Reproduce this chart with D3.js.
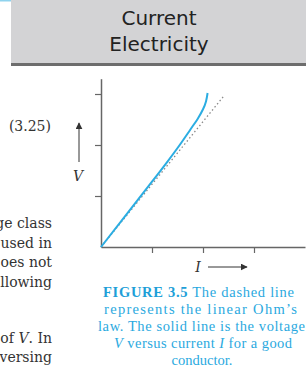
<!DOCTYPE html>
<html>
<head>
<meta charset="utf-8">
<script src="https://cdn.jsdelivr.net/npm/d3@7"></script>
<style>
  body { margin: 0; background: #fff; }
  svg { display: block; }
</style>
</head>
<body>
<div id="my_dataviz"></div>
<script>
// data (units: one tick = 1)
var currentI = [0, 0.5, 1.0, 1.3, 1.55, 1.75, 1.9, 2.0, 2.06, 2.09];
var voltageV = [0, 0.64, 1.28, 1.67, 2.01, 2.3, 2.52, 2.7, 2.86, 3.02];
var ohmI = [0, 2.4];
var ohmV = [0, 2.95];
var tickVals = [1, 2, 3];

var headerLines = ["Current", "Electricity"];
var bodyLines = ["ge class", "used in", "oes not", "llowing"];
var captionLines = [
  "represents the linear Ohm\u2019s",
  "law. The solid line is the voltage"
];

var width = 306, height = 367;

var svg = d3.select("#my_dataviz")
    .append("svg")
    .attr("width", width)
    .attr("height", height);

// header box
svg.append("rect").attr("x", 0).attr("y", 0).attr("width", 11).attr("height", 1.5).attr("fill", "#8fd3ee");
svg.append("rect").attr("x", 11).attr("y", 0).attr("width", width - 11).attr("height", 64).attr("fill", "#d3d3d5");
svg.append("rect").attr("x", 11).attr("y", 63).attr("width", width - 11).attr("height", 3).attr("fill", "#6d6d6d");
svg.selectAll(".hdr")
    .data(headerLines)
    .enter().append("text")
    .attr("class", "hdr")
    .attr("x", 159)
    .attr("y", function(d, i) { return 25 + i * 26; })
    .attr("text-anchor", "middle")
    .style("font-family", "'DejaVu Sans', sans-serif")
    .style("font-size", "20px")
    .attr("fill", "#222")
    .text(function(d) { return d; });

// body text cut at the left edge
var serif = "'DejaVu Serif', serif";
svg.append("text").attr("x", 51).attr("y", 131).attr("text-anchor", "end")
    .style("font-family", serif).style("font-size", "14px").attr("fill", "#333").text("(3.25)");
svg.selectAll(".body")
    .data(bodyLines)
    .enter().append("text")
    .attr("class", "body")
    .attr("x", 52)
    .attr("y", function(d, i) { return 228 + i * 19.5; })
    .attr("text-anchor", "end")
    .style("font-family", serif).style("font-size", "14px").attr("fill", "#333")
    .text(function(d) { return d; });
var t1 = svg.append("text").attr("x", 52).attr("y", 342.5).attr("text-anchor", "end")
    .style("font-family", serif).style("font-size", "14px").attr("fill", "#333");
t1.append("tspan").text("of ");
t1.append("tspan").style("font-style", "italic").text("V");
t1.append("tspan").text(". In");
svg.append("text").attr("x", 52).attr("y", 361.5).attr("text-anchor", "end")
    .style("font-family", serif).style("font-size", "14px").attr("fill", "#333").text("versing");

// scales
var x = d3.scaleLinear().domain([0, 4]).range([101, 305]);
var y = d3.scaleLinear().domain([0, 3.3]).range([247, 247 - 3.3 * 51]);

// axes
var xAxis = svg.append("g")
    .attr("transform", "translate(0," + y(0) + ")")
    .call(d3.axisBottom(x).tickValues(tickVals).tickSize(6).tickSizeOuter(0).tickFormat(""));
var yAxis = svg.append("g")
    .attr("transform", "translate(" + x(0) + ",0)")
    .call(d3.axisLeft(y).tickValues(tickVals).tickSize(6).tickSizeOuter(0).tickFormat(""));
svg.selectAll(".domain").attr("stroke", "#666").attr("stroke-width", 1.5);
svg.selectAll(".tick line").attr("stroke", "#666").attr("stroke-width", 1.2);

// Ohm's law (dashed)
svg.append("path")
    .datum(d3.range(ohmI.length))
    .attr("fill", "none")
    .attr("stroke", "#8a8a8a")
    .attr("stroke-width", 1.3)
    .attr("stroke-dasharray", "1.5,2.5")
    .attr("d", d3.line().x(function(i) { return x(ohmI[i]); }).y(function(i) { return y(ohmV[i]); }));

// measured V-I (solid)
svg.append("path")
    .datum(d3.range(currentI.length))
    .attr("fill", "none")
    .attr("stroke", "#2badE2")
    .attr("stroke-width", 2)
    .attr("d", d3.line().curve(d3.curveNatural)
        .x(function(i) { return x(currentI[i]); })
        .y(function(i) { return y(voltageV[i]); }));

// axis labels with arrows
svg.append("defs").append("marker")
    .attr("id", "arr").attr("viewBox", "0 0 10 10")
    .attr("refX", 9).attr("refY", 5)
    .attr("markerWidth", 7).attr("markerHeight", 7)
    .attr("markerUnits", "userSpaceOnUse")
    .attr("orient", "auto")
    .append("path").attr("d", "M0,0L10,5L0,10z").attr("fill", "#333");

svg.append("line").attr("x1", 79).attr("y1", 162).attr("x2", 79).attr("y2", 123)
    .attr("stroke", "#333").attr("stroke-width", 1).attr("marker-end", "url(#arr)");
svg.append("text").attr("x", 78).attr("y", 181).attr("text-anchor", "middle")
    .style("font-family", serif).style("font-style", "italic").style("font-size", "14px")
    .attr("fill", "#333").text("V");

svg.append("line").attr("x1", 208).attr("y1", 267).attr("x2", 247).attr("y2", 267)
    .attr("stroke", "#333").attr("stroke-width", 1).attr("marker-end", "url(#arr)");
svg.append("text").attr("x", 198).attr("y", 272).attr("text-anchor", "middle")
    .style("font-family", serif).style("font-style", "italic").style("font-size", "14px")
    .attr("fill", "#333").text("I");

// caption
var cap = "#2aa9e0";
var capFont = "'Liberation Serif', serif";
var c1 = svg.append("text").attr("x", 103).attr("y", 297)
    .attr("textLength", 191).attr("lengthAdjust", "spacing")
    .style("font-family", capFont).style("font-size", "14.5px").attr("fill", cap);
c1.append("tspan").style("font-weight", "bold").attr("fill", "#1e9fd8").text("FIGURE 3.5");
c1.append("tspan").text(" The dashed line");
svg.append("text").attr("x", 104).attr("y", 314)
    .attr("textLength", 193).attr("lengthAdjust", "spacing")
    .style("font-family", capFont).style("font-size", "14.5px").attr("fill", cap)
    .text(captionLines[0]);
svg.append("text").attr("x", 98).attr("y", 331)
    .attr("textLength", 207).attr("lengthAdjust", "spacing")
    .style("font-family", capFont).style("font-size", "14.5px").attr("fill", cap)
    .text(captionLines[1]);
var c4 = svg.append("text").attr("x", 114).attr("y", 348)
    .attr("textLength", 178).attr("lengthAdjust", "spacing")
    .style("font-family", capFont).style("font-size", "14.5px").attr("fill", cap);
c4.append("tspan").style("font-style", "italic").text("V");
c4.append("tspan").text(" versus current ");
c4.append("tspan").style("font-style", "italic").text("I");
c4.append("tspan").text(" for a good");
svg.append("text").attr("x", 202).attr("y", 365).attr("text-anchor", "middle")
    .style("font-family", capFont).style("font-size", "14.5px").attr("fill", cap)
    .text("conductor.");
</script>
</body>
</html>
